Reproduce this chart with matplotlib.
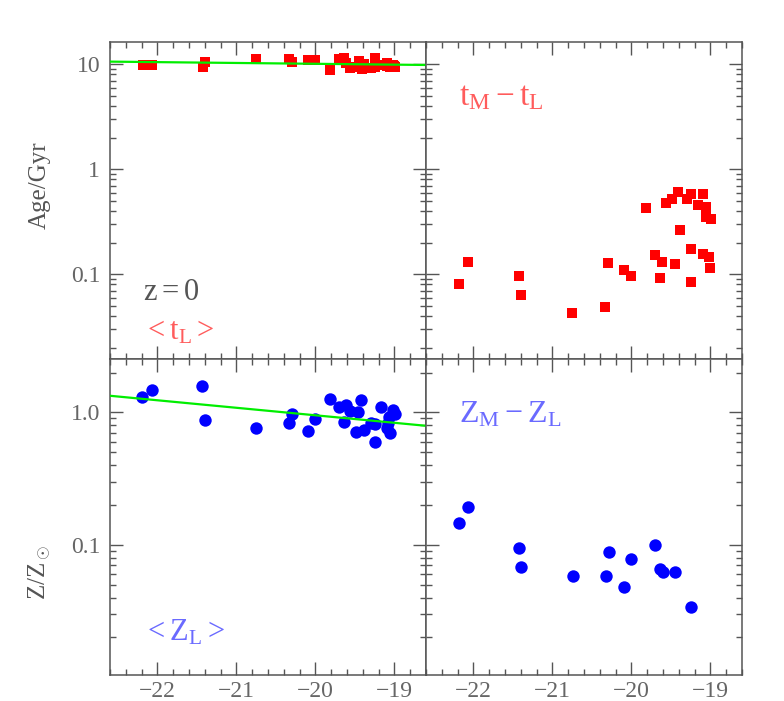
import matplotlib
matplotlib.use('Agg')
import matplotlib.pyplot as plt
from matplotlib.ticker import FixedLocator, NullFormatter, LogLocator, MultipleLocator

plt.rcParams['font.family'] = ['Liberation Serif', 'DejaVu Serif']
plt.rcParams['mathtext.fontset'] = 'custom'
plt.rcParams['mathtext.rm'] = 'Liberation Serif'
plt.rcParams['mathtext.it'] = 'Liberation Serif'

# galaxy magnitudes (top panels)
mag = [-22.18, -22.07, -21.42, -21.40, -20.75, -20.33, -20.29, -20.10, -20.00, -19.81,
       -19.70, -19.64, -19.61, -19.56, -19.48, -19.45, -19.41, -19.38, -19.29, -19.24,
       -19.24, -19.24, -19.16, -19.09, -19.09, -19.06, -19.06, -19.02, -19.01, -18.99]
# light-weighted age <t_L> (Gyr)
age_L = [9.9, 9.8, 9.4, 10.5, 11.2, 11.2, 10.6, 10.9, 11.1, 8.9,
         11.2, 11.4, 10.3, 9.2, 9.4, 10.7, 9.1, 10.0, 9.2, 11.5,
         9.4, 9.8, 9.9, 10.2, 9.6, 9.9, 9.4, 9.9, 9.6, 9.5]
# t_M - t_L (Gyr)
age_diff = [0.080, 0.130, 0.096, 0.064, 0.043, 0.049, 0.127, 0.109, 0.096, 0.425,
            0.153, 0.092, 0.132, 0.474, 0.518, 0.124, 0.604, 0.262, 0.521, 0.586,
            0.173, 0.084, 0.457, 0.586, 0.155, 0.438, 0.351, 0.147, 0.114, 0.334]

# light-weighted metallicity <Z_L>
mag_Z = [-22.19, -22.07, -21.43, -21.40, -20.75, -20.29, -20.33, -20.10, -20.01, -19.815,
         -19.70, -19.61, -19.56, -19.64, -19.46, -19.42, -19.49, -19.38, -19.29, -19.24,
         -19.25, -19.17, -19.02, -18.99, -19.07, -19.08, -19.055, -19.10]
met_L = [1.31, 1.475, 1.58, 0.875, 0.765, 0.966, 0.826, 0.726, 0.885, 1.26,
         1.09, 1.135, 1.02, 0.84, 1.01, 1.24, 0.713, 0.735, 0.826, 0.812,
         0.60, 1.10, 1.04, 0.966, 0.926, 0.826, 0.694, 0.757]

# Z_M - Z_L (only positive values shown)
mag_dZ = [-22.177, -22.071, -21.424, -21.395, -20.745, -20.327, -20.289, -20.099,
          -20.005, -19.697, -19.642, -19.605, -19.447, -19.240]
met_diff = [0.1465, 0.1934, 0.0954, 0.0677, 0.0579, 0.0579, 0.0879, 0.0481,
            0.0788, 0.1005, 0.0662, 0.0624, 0.0621, 0.0339]

# linear fits (end points)
fit_x = [-22.6, -18.6]
fit_age = [10.6, 9.85]
fit_met = [1.335, 0.792]

gray = '#555555'

fig = plt.figure(figsize=(7.84, 7.01), dpi=100)
L, M, R = 110 / 784, 426 / 784, 742 / 784
T, C, B = 1 - 42 / 701, 1 - 359 / 701, 1 - 675 / 701
ax_tl = fig.add_axes([L, C, M - L, T - C])
ax_tr = fig.add_axes([M, C, R - M, T - C])
ax_bl = fig.add_axes([L, B, M - L, C - B])
ax_br = fig.add_axes([M, B, R - M, C - B])

for ax in (ax_tl, ax_tr, ax_bl, ax_br):
    ax.set_yscale('log')
    ax.set_xlim(-22.6, -18.6)
    ax.xaxis.set_major_locator(MultipleLocator(1))
    ax.xaxis.set_minor_locator(MultipleLocator(0.2))
    ax.yaxis.set_minor_locator(LogLocator(base=10, subs=range(2, 10)))
    ax.yaxis.set_minor_formatter(NullFormatter())
    ax.tick_params(which='both', direction='in', top=True, right=True,
                   color=gray, width=1, labelcolor='#666666', labelsize=17)
    ax.tick_params(which='major', length=9.5, pad=7)
    ax.tick_params(axis='x', which='major', pad=4)
    ax.tick_params(which='minor', length=4.5)
    for sp in ax.spines.values():
        sp.set_color(gray)
        sp.set_linewidth(1.1)

for ax in (ax_tl, ax_tr):
    ax.set_ylim(0.0156, 16.3)
    ax.yaxis.set_major_locator(FixedLocator([0.01, 0.1, 1, 10]))
    ax.tick_params(labelbottom=False)
for ax in (ax_bl, ax_br):
    ax.set_ylim(0.0104, 2.53)
    ax.yaxis.set_major_locator(FixedLocator([0.01, 0.1, 1]))
ax_tl.set_yticklabels(['0.01', '0.1', '1', '10'])
ax_bl.set_yticklabels(['0.01', '0.1', '1.0'])
ax_tr.tick_params(labelleft=False)
ax_br.tick_params(labelleft=False)

# data
ax_tl.scatter(mag, age_L, marker='s', s=44, color='red', lw=0, zorder=3)
ax_tl.plot(fit_x, fit_age, color='#00ee00', lw=1.6, zorder=4)
ax_tr.scatter(mag, age_diff, marker='s', s=44, color='red', lw=0, zorder=3)
ax_bl.scatter(mag_Z, met_L, marker='o', s=80, color='blue', lw=0, zorder=3)
ax_bl.plot(fit_x, fit_met, color='#00ee00', lw=1.6, zorder=4)
ax_br.scatter(mag_dZ, met_diff, marker='o', s=80, color='blue', lw=0, zorder=3)

# labels inside panels
ax_tl.text(0.105, 0.185, 'z$=$0', transform=ax_tl.transAxes, color=gray, fontsize=22)
ax_tl.text(0.105, 0.06, r'$<\mathrm{t}_\mathrm{L}>$', transform=ax_tl.transAxes,
           color='#ff5c5c', fontsize=22)
ax_tr.text(0.105, 0.8, r'$\mathrm{t}_\mathrm{M}-\mathrm{t}_\mathrm{L}$',
           transform=ax_tr.transAxes, color='#ff5c5c', fontsize=24)
ax_br.text(0.105, 0.8, r'$\mathrm{Z}_\mathrm{M}-\mathrm{Z}_\mathrm{L}$',
           transform=ax_br.transAxes, color='#6a6aff', fontsize=23)
ax_bl.text(0.105, 0.11, r'$<\mathrm{Z}_\mathrm{L}>$', transform=ax_bl.transAxes,
           color='#6a6aff', fontsize=22)

fig.text(40 / 784, 1 - 185 / 701, 'Age/Gyr', rotation=90, color=gray, fontsize=18,
         ha='center', va='center')
fig.text(40 / 784, 1 - 572 / 701, r'Z/Z$_\odot$', rotation=90, color=gray, fontsize=18,
         ha='center', va='center')

fig.savefig('out.png', dpi=100)
